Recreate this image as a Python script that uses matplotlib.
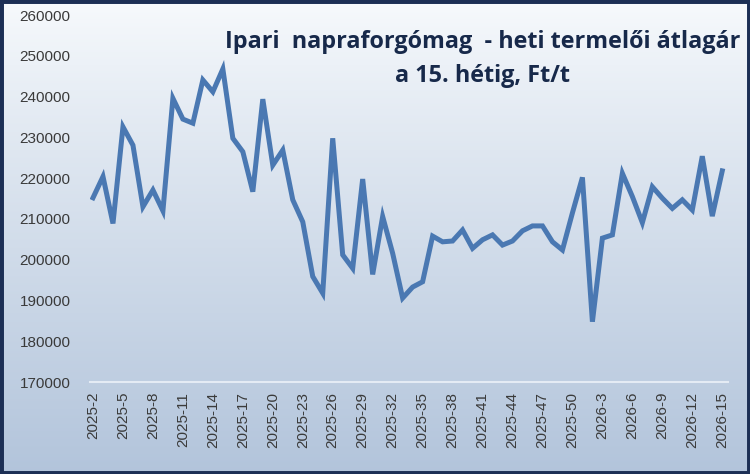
import matplotlib.pyplot as plt
import numpy as np
from matplotlib.patches import Rectangle

# weekly categories (holiday weeks 2025-52 and 2026-1 missing)
weeks_2025 = list(range(2, 52))
weeks_2026 = list(range(2, 16))
labels = [f'2025-{w}' for w in weeks_2025] + [f'2026-{w}' for w in weeks_2026]

prices = [215200, 220400, 208900, 232600, 228100, 213000, 217100, 212000,
          239600, 234500, 233500, 244100, 241200, 246800, 229800, 226500,
          216700, 239400, 223200, 226900, 214700, 209300, 195900, 191800,
          229800, 201200, 197900, 219800, 196400, 210600, 201600, 190600,
          193300, 194600, 205800, 204400, 204600, 207300, 202800, 204900,
          206100, 203600, 204600, 207100, 208300, 208300, 204400, 202400,
          211500, 220200, 184800, 205300, 206100, 221200, 215500, 209100,
          217900, 215100, 212600, 214700, 212200, 225400, 210700, 221800]

title_text = 'Ipari  napraforgómag  - heti termelői átlagár\na 15. hétig, Ft/t'

fig = plt.figure(figsize=(7.5, 4.74), dpi=100)

# background gradient over the whole picture
bg = fig.add_axes([0, 0, 1, 1], zorder=-1)
grad = np.linspace(0, 1, 256).reshape(-1, 1)
top = np.array([0.97, 0.98, 0.99])
bottom = np.array([0.70, 0.77, 0.86])
img = top + (bottom - top) * grad[..., None] ** 0.9
bg.imshow(img, aspect='auto', extent=[0, 1, 0, 1])
bg.add_patch(Rectangle((0, 0), 1, 1, transform=bg.transAxes, fill=False,
                       edgecolor='#1c2f55', linewidth=5))
bg.set_axis_off()

ax = fig.add_axes([0.12, 0.194, 0.851, 0.774])
ax.patch.set_alpha(0)
x = np.arange(len(labels))
ax.plot(x, prices, color='#4a78b2', linewidth=3.6, solid_joinstyle='miter')

ax.set_xlim(-0.3, len(labels) - 0.4)
ax.set_ylim(170000, 260000)
ax.set_yticks(range(170000, 260001, 10000))
ax.set_xticks(x[::3])
ax.set_xticklabels(labels[::3], rotation=90)
ax.tick_params(axis='both', length=0, labelsize=11, labelcolor='#3a3a3a')
ax.tick_params(axis='y', pad=14)
ax.tick_params(axis='x', pad=7)
for lbl in ax.get_xticklabels() + ax.get_yticklabels():
    lbl.set_family('Liberation Sans')
for side in ['top', 'right', 'left']:
    ax.spines[side].set_visible(False)
ax.spines['bottom'].set_color('#e4ebf4')
ax.spines['bottom'].set_linewidth(1.5)

fig.text(0.643, 0.875, title_text, ha='center', va='center', fontsize=16.8,
         fontweight='bold', color='#17294a', family='Open Sans', linespacing=1.55)

fig.savefig('out.png', dpi=100)
